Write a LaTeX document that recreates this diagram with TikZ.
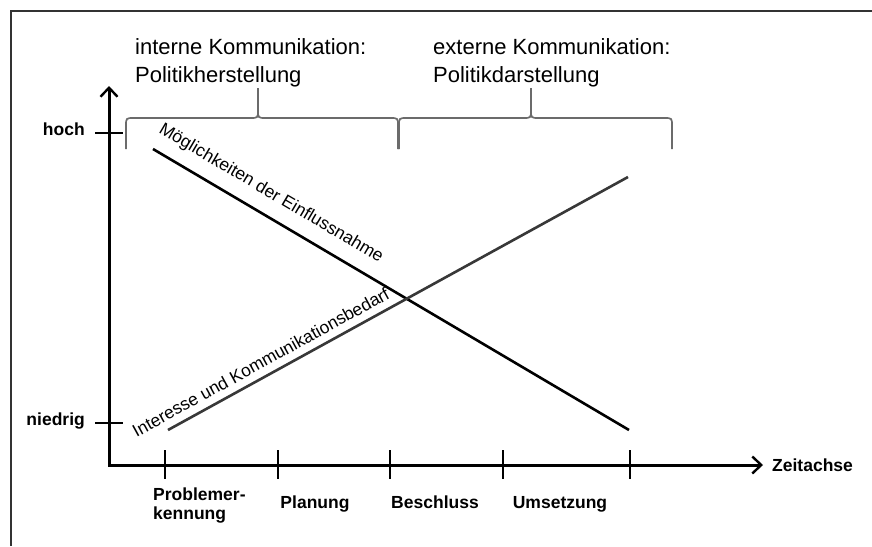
\documentclass[tikz,border=0pt]{standalone}
\usepackage{fontspec}
\setmainfont{Liberation Sans}
\usetikzlibrary{arrows.meta}

\begin{document}
\begin{tikzpicture}[x=1pt, y=-1pt,
  axis/.style = {line width=3pt, line join=miter, {Straight Barb[length=9pt,width=17pt,line width=2.4pt]}-{Straight Barb[length=9pt,width=17pt,line width=2.4pt]}},
  tick/.style = {line width=2.6pt},
  brace/.style = {draw=black!58, line width=1.7pt},
  lab/.style = {font=\bfseries\fontsize{17.5}{19}\selectfont, inner sep=0pt},
  head/.style = {font=\fontsize{22}{28}\selectfont, align=left, inner sep=0pt, anchor=north west},
  curve/.style = {font=\fontsize{17.5}{20}\selectfont, sloped, inner sep=0pt, text=black}]
\useasboundingbox (0,0) rectangle (872,546);
\draw[black!80, line width=1.4pt] (11,546) -- (11,11) -- (872,11);

% headings and braces
\node[head] (intern) at (135,38) {interne Kommunikation:\\Politikherstellung};
\node[head] (extern) at (433,38) {externe Kommunikation:\\Politikdarstellung};
\draw[brace] (126,149) -- (126,126) .. controls (126,118) .. (134,118) -- (250,118)
  .. controls (258,118) .. (258,110) -- (258,88) -- (258,110)
  .. controls (258,118) .. (266,118) -- (390,118) .. controls (398,118) .. (398,126) -- (398,149);
\draw[brace] (399,149) -- (399,126) .. controls (399,118) .. (407,118) -- (523,118)
  .. controls (531,118) .. (531,110) -- (531,88) -- (531,110)
  .. controls (531,118) .. (539,118) -- (664,118) .. controls (672,118) .. (672,126) -- (672,149);

% axes
\coordinate (ytop) at (109,86);
\coordinate (o) at (109,465);
\coordinate (xend) at (763,465);
\draw[axis] (ytop) -- (o) -- (xend);
\node[lab, anchor=west] (zeit) at (772,465) {Zeitachse};

\node[lab, anchor=mid east] (hoch) at (85,133) {hoch};
\node[lab, anchor=mid east] (niedrig) at (85,423) {niedrig};
\draw[tick] (95,133) -- (123,133);
\draw[tick] (95,423) -- (123,423);
\foreach \x in {165,278,390,503,630}
  \draw[tick] (\x,450) -- (\x,479);

\node[lab, align=left, anchor=north west] (probl) at (153,488) {Problemer-\\kennung};
\node[lab, anchor=base] (plan) at (315,508) {Planung};
\node[lab, anchor=base] (besch) at (435,508) {Beschluss};
\node[lab, anchor=base] (umsetz) at (560,508) {Umsetzung};

% the two curves
\coordinate (m1) at (153,149);
\coordinate (m2) at (629,430);
\coordinate (i1) at (168,430);
\coordinate (i2) at (628,177);
\draw[line width=2.6pt] (m1) -- (m2) node[curve, above=12pt, pos=0.225] (einfl) {Möglichkeiten der Einflussnahme};
\draw[black!78, line width=2.6pt] (i1) -- (i2) node[curve, above=7pt, pos=0.217] (bedarf) {Interesse und Kommunikationsbedarf};
\end{tikzpicture}
\end{document}
